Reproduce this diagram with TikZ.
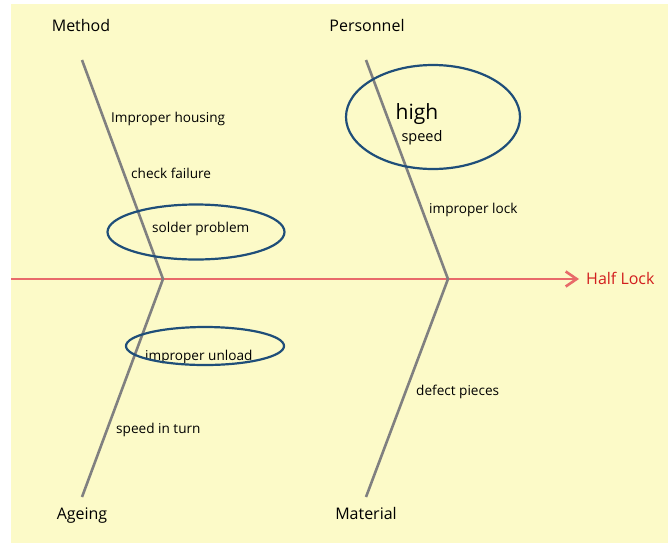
\documentclass[tikz,border=0pt]{standalone}
\usepackage{fontspec}
\setmainfont{Open Sans}
\usetikzlibrary{arrows.meta,shapes.geometric}
\definecolor{paper}{RGB}{252,250,200}
\definecolor{bone}{RGB}{128,128,128}
\definecolor{spinecol}{RGB}{232,106,106}
\definecolor{headcol}{RGB}{210,30,30}
\definecolor{ringcol}{RGB}{31,78,121}
\begin{document}
\begin{tikzpicture}[x=1pt,y=-1pt,
  bonestyle/.style={draw=bone,line width=2.6pt},
  spinestyle/.style={draw=spinecol,line width=2.6pt,-{Straight Barb[length=11pt,width=15pt]}},
  txt/.style={inner sep=0pt,text height=0.74em,text depth=0.24em,yshift=-3.5pt},
  cat/.style={txt,font=\fontsize{16}{18}\selectfont,text=black},
  cause/.style={txt,font=\fontsize{13.6}{15}\selectfont,text=black,anchor=west},
  ring/.style={draw=ringcol,line width=2.2pt,ellipse,inner sep=0pt}]
  % background
  \useasboundingbox (0,0) rectangle (668,544);
  \fill[paper] (11,4) rectangle (668,543);

  % bone end points
  \coordinate (mtop) at (82,60);
  \coordinate (jl) at (163,279);
  \coordinate (abot) at (82,497);
  \coordinate (ptop) at (366,60);
  \coordinate (jr) at (448,279);
  \coordinate (mbot) at (366,497);
  \coordinate (tail) at (11,279);
  \coordinate (tip) at (579,279);

  % effect
  \node[txt,font=\fontsize{16}{18}\selectfont,text=headcol,anchor=west] (effect) at (586,278) {Half Lock};

  % spine and bones
  \draw[spinestyle] (tail) -- (tip);
  \draw[bonestyle,line join=miter] (mtop) -- (jl) -- (abot);
  \draw[bonestyle,line join=miter] (ptop) -- (jr) -- (mbot);

  % categories
  \node[cat] (method) at (81,25) {Method};
  \node[cat] (personnel) at (367,25) {Personnel};
  \node[cat] (ageing) at (82,513) {Ageing};
  \node[cat] (material) at (366,513) {Material};

  % causes
  \node[cause] (c1) at (111,116) {Improper housing};
  \node[cause] (c2) at (131,172) {check failure};
  \node[cause] (c3) at (152,226) {solder problem};
  \node[cause] (c4) at (145,354) {improper unload};
  \node[cause] (c5) at (116,427) {speed in turn};
  \node[txt,font=\fontsize{21}{24}\selectfont] (c6) at (417,113) {high};
  \node[txt,font=\fontsize{14.5}{16}\selectfont] (c7) at (422,135) {speed};
  \node[cause] (c8) at (429,207) {improper lock};
  \node[cause] (c9) at (416,389) {defect pieces};

  % highlight rings
  \node[ring,minimum width=177pt,minimum height=55pt] (r1) at (196,232) {};
  \node[ring,minimum width=158pt,minimum height=38pt] (r2) at (205,346) {};
  \node[ring,minimum width=174pt,minimum height=104pt] (r3) at (433,117) {};
\end{tikzpicture}
\end{document}
